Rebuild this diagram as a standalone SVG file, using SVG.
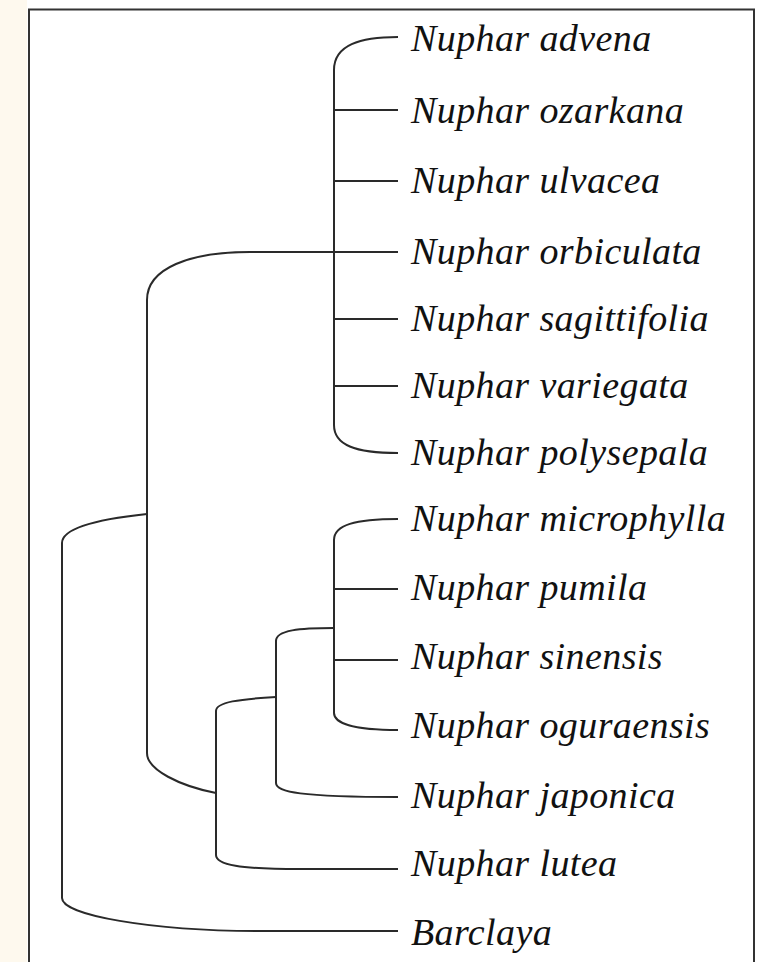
<svg xmlns="http://www.w3.org/2000/svg" width="761" height="962" viewBox="0 0 761 962">
<style>
.br{fill:none;stroke:#2a2a2a;stroke-width:2;stroke-linecap:butt}
.lf{font-family:"Liberation Serif","Times New Roman",serif;font-style:italic;font-size:38px;letter-spacing:0.4px;fill:#111}
</style>
<rect x="0" y="0" width="761" height="962" fill="#ffffff"/>
<rect x="0" y="0" width="27" height="962" fill="#fef9ee"/>
<rect id="frame" x="29" y="9.5" width="725" height="1000" fill="#ffffff" stroke="#333" stroke-width="2"/>
<g id="connectors">
  <path class="br" d="M398 37 C360 37 334 45 334 70 L334 425 C334 445 355 453 398 453"/>
  <path class="br" d="M334 110 H398 M334 181 H398 M334 319 H398 M334 386 H398"/>
  <path class="br" d="M147 300 C147 268 190 252 250 252 H398"/>
  <path class="br" d="M398 519 C355 519 334 525 334 540 L334 713 C334 722 350 730 398 730"/>
  <path class="br" d="M334 589 H398 M334 660 H398"/>
  <path class="br" d="M334 628 C300 628 276 630 276 641 L276 783 C276 792 300 797 398 797"/>
  <path class="br" d="M276 697 C240 699 216 702 216 711 L216 855 C216 865 240 869 300 869 H398"/>
  <path class="br" d="M147 300 L147 753 C147 770 180 786 216 793"/>
  <path class="br" d="M147 514 C100 519 62 528 62 543 L62 898 C62 915 150 931 260 931 H398"/>
</g>
<g id="n-advena"><text class="lf" x="411" y="51">Nuphar advena</text></g>
<g id="n-ozarkana"><text class="lf" x="411" y="123">Nuphar ozarkana</text></g>
<g id="n-ulvacea"><text class="lf" x="411" y="193">Nuphar ulvacea</text></g>
<g id="n-orbiculata"><text class="lf" x="411" y="264">Nuphar orbiculata</text></g>
<g id="n-sagittifolia"><text class="lf" x="411" y="331">Nuphar sagittifolia</text></g>
<g id="n-variegata"><text class="lf" x="411" y="398">Nuphar variegata</text></g>
<g id="n-polysepala"><text class="lf" x="411" y="465">Nuphar polysepala</text></g>
<g id="n-microphylla"><text class="lf" x="411" y="531">Nuphar microphylla</text></g>
<g id="n-pumila"><text class="lf" x="411" y="600">Nuphar pumila</text></g>
<g id="n-sinensis"><text class="lf" x="411" y="669">Nuphar sinensis</text></g>
<g id="n-oguraensis"><text class="lf" x="411" y="738">Nuphar oguraensis</text></g>
<g id="n-japonica"><text class="lf" x="411" y="808">Nuphar japonica</text></g>
<g id="n-lutea"><text class="lf" x="411" y="876">Nuphar lutea</text></g>
<g id="n-barclaya"><text class="lf" x="411" y="945">Barclaya</text></g>
</svg>
